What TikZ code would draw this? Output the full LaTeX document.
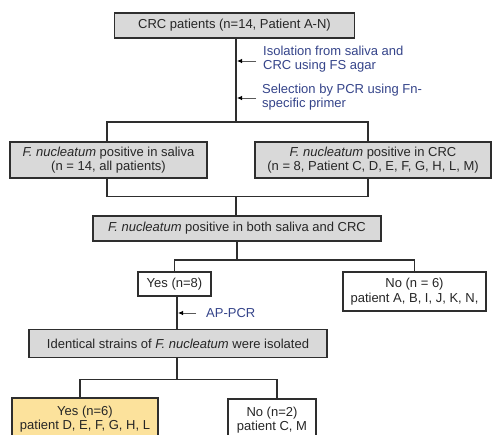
\documentclass[tikz,border=0pt]{standalone}
\usepackage{fontspec}
\setmainfont{Liberation Sans}
\usetikzlibrary{arrows.meta}
\definecolor{boxgray}{HTML}{D9D9D9}
\definecolor{boxyellow}{HTML}{FCE29C}
\definecolor{linec}{HTML}{2E2E2E}
\definecolor{notec}{HTML}{35448A}
\tikzset{
  boxbase/.style={draw=linec, line width=1.4pt, inner sep=0pt, align=center,
    font=\fontsize{13}{14.5}\selectfont, text=black!85},
  graybox/.style={boxbase, fill=boxgray},
  whitebox/.style={boxbase, fill=white},
  yellowbox/.style={boxbase, fill=boxyellow},
  conn/.style={draw=linec, line width=1.4pt},
  notearrow/.style={draw=gray!70!black, line width=0.8pt, -{Latex[length=5pt,width=4.5pt,black]}},
  notetext/.style={anchor=west, align=left, inner sep=0pt, text=notec,
    font=\fontsize{13}{14.2}\selectfont},
}
\begin{document}
\begin{tikzpicture}[x=1pt,y=-1pt]
\clip (0,0) rectangle (492,434);
\fill[white] (0,0) rectangle (492,434);

% boxes
\node[graybox, minimum width=240pt, minimum height=25pt] (crc) at (234.5,25.5) {CRC patients (n=14, Patient A-N)};
\node[graybox, minimum width=197pt, minimum height=36pt] (saliva) at (108.5,160)
  {\textit{F. nucleatum} positive in saliva\\(n = 14, all patients)};
\node[graybox, minimum width=236pt, minimum height=36pt] (crcpos) at (373,160)
  {\textit{F. nucleatum} positive in CRC\\(n = 8, Patient C, D, E, F, G, H, L, M)};
\node[graybox, minimum width=288pt, minimum height=25pt] (both) at (237,228.5)
  {\textit{F. nucleatum} positive in both saliva and CRC};
\node[whitebox, minimum width=73pt, minimum height=24pt] (yes8) at (174.5,284) {Yes (n=8)};
\node[whitebox, minimum width=143pt, minimum height=39pt] (no6) at (414.5,291.5)
  {No (n = 6)\\patient A, B, I, J, K, N,};
\node[graybox, minimum width=298pt, minimum height=28pt] (ident) at (178,343.5)
  {Identical strains of \textit{F. nucleatum} were isolated};
\node[yellowbox, minimum width=146pt, minimum height=42pt] (yes6) at (85,419)
  {Yes (n=6)\\patient D, E, F, G, H, L};
\node[whitebox, minimum width=88pt, minimum height=42pt] (no2) at (272,420)
  {No (n=2)\\patient C, M};

% junction coordinates
\coordinate (s1) at (236,122);
\coordinate (s1l) at (107,122);
\coordinate (s1r) at (368,122);
\coordinate (m1) at (236,196.5);
\coordinate (m1l) at (107,196.5);
\coordinate (m1r) at (368,196.5);
\coordinate (s2) at (237,260);
\coordinate (s3) at (177,379.5);
\coordinate (s3l) at (80,379.5);
\coordinate (s3r) at (277,379.5);
\coordinate (a1) at (237,61);
\coordinate (a1s) at (256,61);
\coordinate (a2) at (237,98);
\coordinate (a2s) at (256,98);
\coordinate (a3) at (178,313);
\coordinate (a3s) at (196,313);

% connectors
\draw[conn] (crc.south -| s1) -- (s1);
\draw[conn] (s1l |- saliva.north) -- (s1l) -- (s1r) -- (s1r |- crcpos.north);
\draw[conn] (m1l |- saliva.south) -- (m1l) -- (m1r) -- (m1r |- crcpos.south);
\draw[conn] (m1) -- (m1 |- both.north);
\draw[conn] (both.south -| s2) -- (s2);
\draw[conn] (yes8.north) |- (s2) -| (no6.north);
\draw[conn] (yes8.south -| s3) -- (ident.north -| s3);
\draw[conn] (ident.south -| s3) -- (s3);
\draw[conn] (s3l |- yes6.north) -- (s3l) -- (s3r) -- (s3r |- no2.north);

% annotation arrows
\draw[notearrow] (a1s) -- (a1);
\draw[notearrow] (a2s) -- (a2);
\draw[notearrow] (a3s) -- (a3);
\node[notetext] (t1) at (263,59.5) {Isolation from saliva and\\CRC using FS agar};
\node[notetext] (t2) at (262,97) {Selection by PCR using Fn-\\specific primer};
\node[notetext] (t3) at (206,313) {AP-PCR};
\end{tikzpicture}
\end{document}
